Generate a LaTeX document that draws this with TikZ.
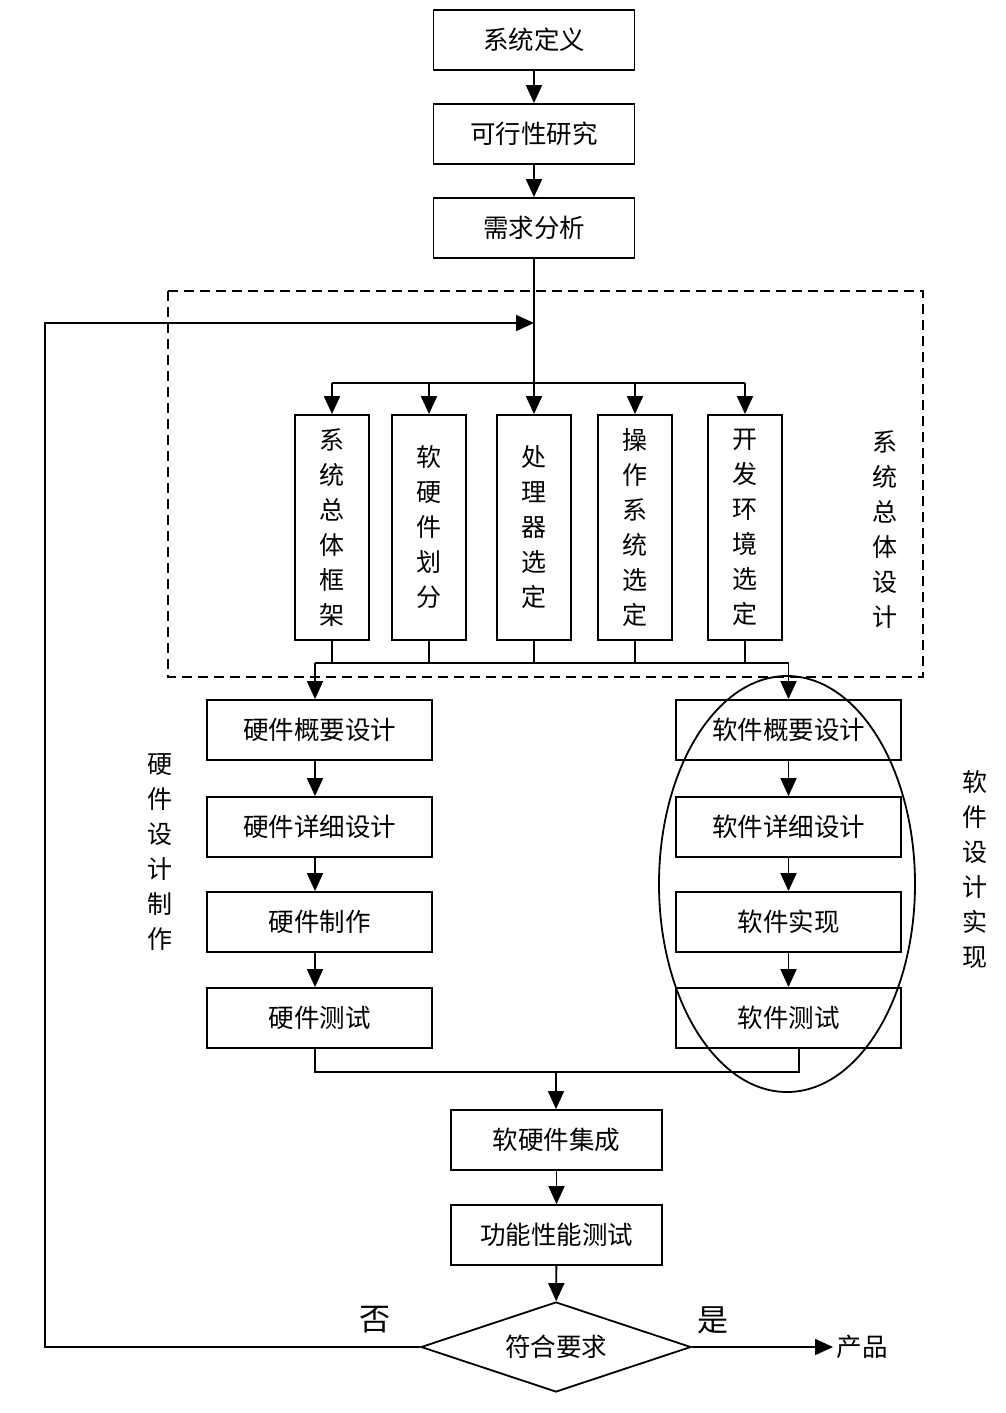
\documentclass[tikz,border=0pt]{standalone}
\usepackage{fontspec}
\newfontfamily\cjk{Noto Sans CJK SC}
\usetikzlibrary{arrows.meta,shapes.geometric}
\begin{document}
\begin{tikzpicture}[x=1pt,y=-1pt,
  line width=1.8pt,
  txt/.style={font=\cjk\fontsize{25.5}{30}\selectfont},
  box/.style={draw,txt,minimum width=201pt,minimum height=60pt,inner sep=0pt},
  wbox/.style={draw,txt,minimum width=225pt,minimum height=60pt,inner sep=0pt},
  vbox/.style={draw,font=\cjk\fontsize{25}{35}\selectfont,align=center,minimum width=74pt,minimum height=225pt,inner sep=0pt},
  vtxt/.style={font=\cjk\fontsize{25}{35}\selectfont,align=center,inner sep=0pt},
  arr/.style={-{Triangle[width=16pt,length=18pt]}}]
\useasboundingbox (0,0) rectangle (1005,1413);
% top chain
\node[box] (a) at (534,40) {系统定义};
\node[box] (b) at (534,134) {可行性研究};
\node[box] (c) at (534,228) {需求分析};
\draw[arr] (a) -- (b);
\draw[arr] (b) -- (c);
% dashed region
\draw[dashed,dash pattern=on 10pt off 6pt] (168,291) rectangle (923,677);
\node[vtxt] (sysd) at (885,530) {系\\统\\总\\体\\设\\计};
% vertical boxes
\node[vbox] (p1) at (332,527.5) {系\\统\\总\\体\\框\\架};
\node[vbox] (p2) at (429,527.5) {软\\硬\\件\\划\\分};
\node[vbox] (p3) at (534,527.5) {处\\理\\器\\选\\定};
\node[vbox] (p4) at (635,527.5) {操\\作\\系\\统\\选\\定};
\node[vbox] (p5) at (745,527.5) {开\\发\\环\\境\\选\\定};
\coordinate (bus) at (534,383);
\coordinate (j) at (534,323);
\draw[arr] (c.south) -- (p3.north);
\draw (p1.north |- bus) -- (p5.north |- bus);
\foreach \p in {p1,p2,p4,p5} \draw[arr] (\p.north |- bus) -- (\p.north);
% columns
\node[wbox] (h1) at (319.5,730) {硬件概要设计};
\node[wbox] (h2) at (319.5,827) {硬件详细设计};
\node[wbox] (h3) at (319.5,922) {硬件制作};
\node[wbox] (h4) at (319.5,1018) {硬件测试};
\node[wbox] (s1) at (788.5,730) {软件概要设计};
\node[wbox] (s2) at (788.5,827) {软件详细设计};
\node[wbox] (s3) at (788.5,922) {软件实现};
\node[wbox] (s4) at (788.5,1018) {软件测试};
\coordinate (bb) at (0,663);
\coordinate (hx) at ([xshift=-4.5pt]h1.north);
\draw ([xshift=-4.5pt]h1.north |- bb) -- (s1.north |- bb);
\foreach \p in {p1,p2,p3,p4,p5} \draw (\p.south) -- (\p.south |- bb);
\draw[arr] (hx |- bb) -- (hx);
\draw[arr] (s1.north |- bb) -- (s1.north);
\draw[arr] ([xshift=-4.5pt]h1.south) -- ([xshift=-4.5pt]h2.north);
\draw[arr] ([xshift=-4.5pt]h2.south) -- ([xshift=-4.5pt]h3.north);
\draw[arr] ([xshift=-4.5pt]h3.south) -- ([xshift=-4.5pt]h4.north);
\draw[arr] (s1) -- (s2);
\draw[arr] (s2) -- (s3);
\draw[arr] (s3) -- (s4);
\node[vtxt] (hlab) at (160,852) {硬\\件\\设\\计\\制\\作};
\node[vtxt] (slab) at (975,870) {软\\件\\设\\计\\实\\现};
\node[draw,ellipse,minimum width=256pt,minimum height=416pt,inner sep=0pt] (el) at (787,884) {};
% merge
\node[box,minimum width=211pt] (i) at (556.5,1140) {软硬件集成};
\node[box,minimum width=211pt] (f) at (556.5,1235) {功能性能测试};
\coordinate (m) at (556,1072);
\draw ([xshift=-4.5pt]h4.south) -- ([xshift=-4.5pt]h4.south |- m) -- ([xshift=10.5pt]s4.south |- m) -- ([xshift=10.5pt]s4.south);
\draw[arr] (m) -- (i.north -| m);
\draw[arr] (i) -- (f);
% decision
\node[draw,diamond,shape aspect=3,minimum width=270pt,minimum height=90pt,inner sep=0pt,txt] (d) at (556,1347) {符合要求};
\draw[arr] (f) -- (d);
\node[font=\cjk\fontsize{31}{36}\selectfont] (no) at (375,1320) {否};
\node[font=\cjk\fontsize{31}{36}\selectfont] (yes) at (713,1320) {是};
\node[txt,inner sep=3pt,anchor=west] (prod) at (833,1347) {产品};
\draw[arr] (d.east) -- (prod.west);
\draw[arr] (d.west) -- ++(-375,0) |- (j);
\end{tikzpicture}
\end{document}
